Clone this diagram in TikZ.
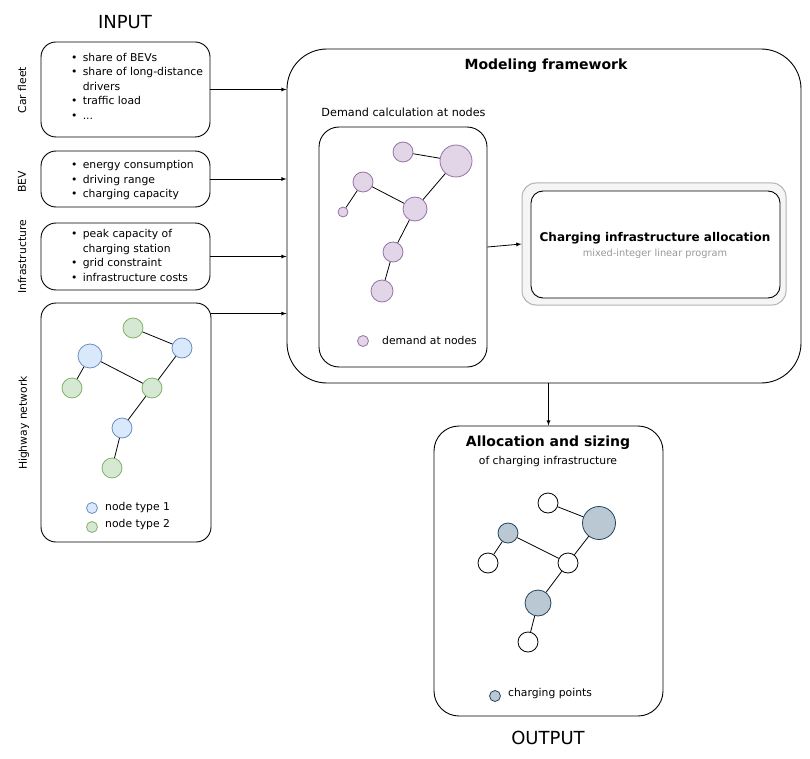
\documentclass[tikz,border=0pt]{standalone}
\usepackage{fontspec}
\setmainfont{DejaVu Sans}
\usepackage{xcolor}
\usepackage{tikz}

\definecolor{bluefill}{HTML}{DAE8FC}
\definecolor{bluedraw}{HTML}{6C8EBF}
\definecolor{greenfill}{HTML}{D5E8D4}
\definecolor{greendraw}{HTML}{82B366}
\definecolor{purplefill}{HTML}{E1D5E7}
\definecolor{purpledraw}{HTML}{9673A6}
\definecolor{grayfill}{HTML}{BAC8D3}
\definecolor{graydraw}{HTML}{23445D}

\tikzset{
  box/.style={draw, line width=0.9pt, rounded corners=15pt, inner sep=0pt},
  txt/.style={font=\fontsize{10.8}{14.5}\selectfont, inner sep=0pt},
  side/.style={txt, rotate=90},
  pt/.style={circle, draw, line width=0.8pt, inner sep=0pt},
  nblue/.style={pt, fill=bluefill, draw=bluedraw},
  ngreen/.style={pt, fill=greenfill, draw=greendraw},
  npurple/.style={pt, fill=purplefill, draw=purpledraw},
  ngray/.style={pt, fill=grayfill, draw=graydraw},
  nwhite/.style={pt, fill=white, draw=black},
  link/.style={line width=0.8pt},
}

\begin{document}
\begin{tikzpicture}[x=1pt, y=-1pt]
\useasboundingbox (0,0) rectangle (810,759);

% input side
\node[font=\fontsize{18}{20}\selectfont] (inp) at (125,22) {INPUT};

\node[box, minimum width=169, minimum height=95] (cf) at (125.5,89.5) {};
\node[txt, anchor=west] (cftxt) at (71,87.5) {\begin{tabular}{@{}l@{\ \,}l@{}}
\textbullet & share of BEVs\\
\textbullet & share of long-distance\\
 & drivers\\
\textbullet & traffic load\\
\textbullet & ...
\end{tabular}};
\node[side] (cflab) at (22,90) {Car fleet};

\node[box, minimum width=169, minimum height=56] (bev) at (125.5,179) {};
\node[txt, anchor=west] (bevtxt) at (71,180.5) {\begin{tabular}{@{}l@{\ \,}l@{}}
\textbullet & energy consumption\\
\textbullet & driving range\\
\textbullet & charging capacity
\end{tabular}};
\node[side] (bevlab) at (22,182) {BEV};

\node[box, minimum width=169, minimum height=67] (inf) at (125.5,256.5) {};
\node[txt, anchor=west] (inftxt) at (71,256.5) {\begin{tabular}{@{}l@{\ \,}l@{}}
\textbullet & peak capacity of\\
 & charging station\\
\textbullet & grid constraint\\
\textbullet & infrastructure costs
\end{tabular}};
\node[side] (inflab) at (22,257) {Infrastructure};

\node[box, minimum width=170, minimum height=239] (hw) at (126,422.5) {};
\node[side] (hwlab) at (24,423) {Highway network};

% highway graph
\node[ngreen, minimum size=20] (h1) at (133,328) {};
\node[nblue, minimum size=20] (h2) at (182,348) {};
\node[nblue, minimum size=24] (h3) at (90,356) {};
\node[ngreen, minimum size=20] (h4) at (72,388) {};
\node[ngreen, minimum size=20] (h5) at (152,388) {};
\node[nblue, minimum size=20] (h6) at (122,428) {};
\node[ngreen, minimum size=20] (h7) at (112,468) {};
\draw[link] (h1) -- (h2);
\draw[link] (h2) -- (h5);
\draw[link] (h3) -- (h5);
\draw[link] (h3) -- (h4);
\draw[link] (h5) -- (h6);
\draw[link] (h6) -- (h7);
\node[nblue, minimum size=11] (lg1) at (92,508) {};
\node[txt, anchor=west] (lg1txt) at (105,508) {node type 1};
\node[ngreen, minimum size=11] (lg2) at (92,527) {};
\node[txt, anchor=west] (lg2txt) at (105,525) {node type 2};

% modeling framework
\node[box, rounded corners=40pt, minimum width=514, minimum height=334] (mf) at (544,216) {};
\node[font=\fontsize{14}{16}\bfseries] (mftit) at (546,66) {Modeling framework};
\node[txt, font=\fontsize{11.2}{14}\selectfont] (dmtit) at (403.5,112) {Demand calculation at nodes};
\node[box, rounded corners=20pt, minimum width=168, minimum height=240] (dm) at (403,247) {};

\node[npurple, minimum size=20] (d1) at (403,152) {};
\node[npurple, minimum size=32] (d2) at (456,161) {};
\node[npurple, minimum size=20] (d3) at (363,182) {};
\node[npurple, minimum size=10] (d4) at (343,212) {};
\node[npurple, minimum size=24] (d5) at (415,209) {};
\node[npurple, minimum size=20] (d6) at (393,252) {};
\node[npurple, minimum size=22] (d7) at (382,291) {};
\draw[link] (d1) -- (d2);
\draw[link] (d2) -- (d5);
\draw[link] (d3) -- (d5);
\draw[link] (d3) -- (d4);
\draw[link] (d5) -- (d6);
\draw[link] (d6) -- (d7);
\node[npurple, minimum size=11] (lgd) at (363,341) {};
\node[txt, anchor=west] (lgdtxt) at (382,340) {demand at nodes};

\node[draw=gray!60, fill=gray!8, line width=1pt, rounded corners=14pt, minimum width=264, minimum height=122] (cia) at (654,244) {};
\node[box, fill=white, rounded corners=12pt, minimum width=249, minimum height=107] (ciain) at (655.5,244.5) {};
\node[font=\fontsize{12}{14}\bfseries] (ciatit) at (655,238) {Charging infrastructure allocation};
\node[txt, text=gray!80, font=\fontsize{9.8}{11}\selectfont] (ciasub) at (655,254) {mixed-integer linear program};

% output
\node[box, rounded corners=25pt, minimum width=229, minimum height=290] (out) at (548.5,571) {};
\node[font=\fontsize{14}{16}\bfseries] (outtit) at (548,443) {Allocation and sizing};
\node[txt] (outsub) at (548,462) {of charging infrastructure};

\node[nwhite, minimum size=20] (o1) at (548,503) {};
\node[ngray, minimum size=33] (o2) at (599,523) {};
\node[ngray, minimum size=20] (o3) at (508,533) {};
\node[nwhite, minimum size=20] (o4) at (488,563) {};
\node[nwhite, minimum size=20] (o5) at (568,563) {};
\node[ngray, minimum size=26] (o6) at (538,603) {};
\node[nwhite, minimum size=20] (o7) at (528,642) {};
\draw[link] (o1) -- (o2);
\draw[link] (o2) -- (o5);
\draw[link] (o3) -- (o5);
\draw[link] (o3) -- (o4);
\draw[link] (o5) -- (o6);
\draw[link] (o6) -- (o7);
\node[ngray, minimum size=11] (lgo) at (495,696) {};
\node[txt, anchor=west] (lgotxt) at (508,694) {charging points};

\node[font=\fontsize{18}{20}\selectfont] (outp) at (548,738) {OUTPUT};

% connectors
\draw [>=latex, ->, line width=0.8pt] (cf.east) -- (cf.east -| mf.west);
\draw [>=latex, ->, line width=0.8pt] (bev.east) -- (bev.east -| mf.west);
\draw [>=latex, ->, line width=0.8pt] (inf.east) -- (inf.east -| mf.west);
\draw [>=latex, ->, line width=0.8pt] (hw.north east) ++(0,11) coordinate (hwout) -- (hwout -| mf.west);
\draw [>=latex, ->, line width=0.8pt] (dm.east) -- (cia.west);
\draw [>=latex, ->, line width=0.8pt] (out.north |- mf.south) -- (out.north);

\end{tikzpicture}
\end{document}
